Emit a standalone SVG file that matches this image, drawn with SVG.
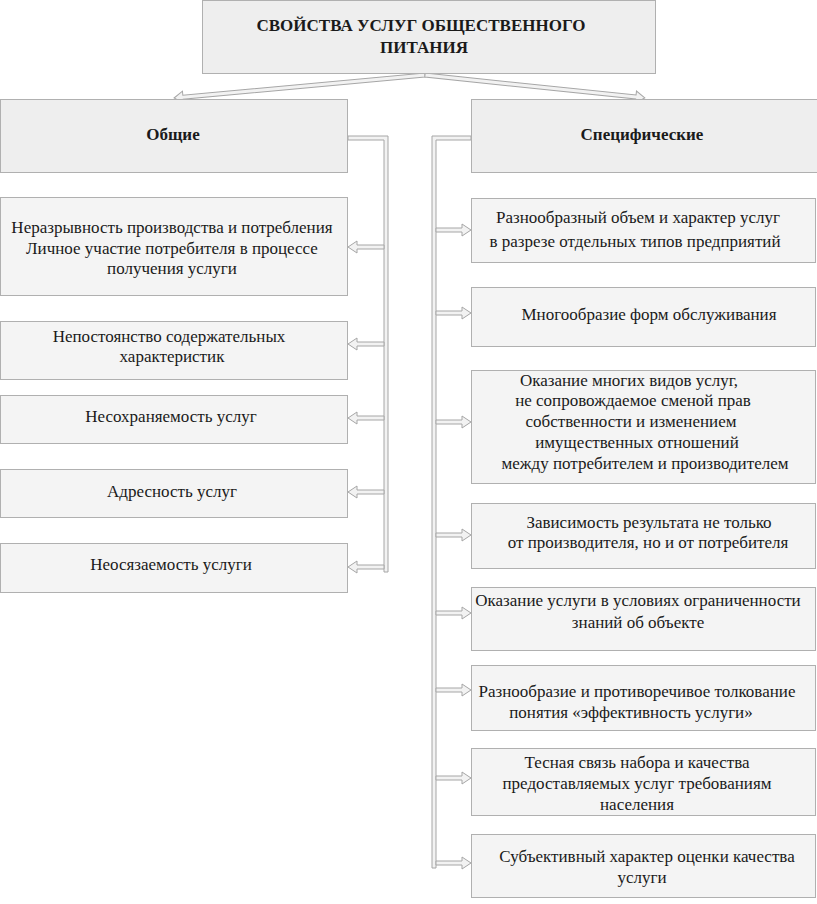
<svg xmlns="http://www.w3.org/2000/svg" width="817" height="904" viewBox="0 0 817 904">
<style>
  .bg { fill: #ffffff; }
  .box { fill: #f4f4f4; stroke: #b0b0b0; stroke-width: 1; }
  .hbox { fill: #eeeeee; stroke: #b0b0b0; stroke-width: 1; }
  .t { font-family: "Liberation Serif", "Times New Roman", Times, serif; font-size: 17px; fill: #1a1a1a; text-anchor: middle; }
  .b { font-weight: bold; }
  .conn { fill: #f2f2f2; stroke: #a6a6a6; stroke-width: 1; stroke-linejoin: miter; }
</style>
<rect class="bg" x="0" y="0" width="817" height="904"/>

<g id="connectors">
  <!-- top diagonal arrows -->
  <g transform="translate(425,75) rotate(174.76)">
    <path class="conn" d="M0,-2 H243 V-6 L252,0 L243,6 V2 H0 Z"/>
  </g>
  <g transform="translate(425,75) rotate(5.97)">
    <path class="conn" d="M0,-2 H212 V-6 L221,0 L212,6 V2 H0 Z"/>
  </g>
  <!-- left bus -->
  <path class="conn" d="M348,136 H388 V572 H384 V140 H348 Z"/>
  <g transform="translate(384,247)"><path class="conn" d="M0,-2 H-27 V-6 L-36,0 L-27,6 V2 H0 Z"/></g>
  <g transform="translate(384,344)"><path class="conn" d="M0,-2 H-27 V-6 L-36,0 L-27,6 V2 H0 Z"/></g>
  <g transform="translate(384,418)"><path class="conn" d="M0,-2 H-27 V-6 L-36,0 L-27,6 V2 H0 Z"/></g>
  <g transform="translate(384,492)"><path class="conn" d="M0,-2 H-27 V-6 L-36,0 L-27,6 V2 H0 Z"/></g>
  <g transform="translate(384,567)"><path class="conn" d="M0,-2 H-27 V-6 L-36,0 L-27,6 V2 H0 Z"/></g>
  <!-- right bus -->
  <path class="conn" d="M471,136 H432 V868 H436 V140 H471 Z"/>
  <g transform="translate(436,230)"><path class="conn" d="M0,-2 H26 V-6 L35,0 L26,6 V2 H0 Z"/></g>
  <g transform="translate(436,313)"><path class="conn" d="M0,-2 H26 V-6 L35,0 L26,6 V2 H0 Z"/></g>
  <g transform="translate(436,422)"><path class="conn" d="M0,-2 H26 V-6 L35,0 L26,6 V2 H0 Z"/></g>
  <g transform="translate(436,535)"><path class="conn" d="M0,-2 H26 V-6 L35,0 L26,6 V2 H0 Z"/></g>
  <g transform="translate(436,613)"><path class="conn" d="M0,-2 H26 V-6 L35,0 L26,6 V2 H0 Z"/></g>
  <g transform="translate(436,690)"><path class="conn" d="M0,-2 H26 V-6 L35,0 L26,6 V2 H0 Z"/></g>
  <g transform="translate(436,778)"><path class="conn" d="M0,-2 H26 V-6 L35,0 L26,6 V2 H0 Z"/></g>
  <g transform="translate(436,863)"><path class="conn" d="M0,-2 H26 V-6 L35,0 L26,6 V2 H0 Z"/></g>
</g>

<g id="title">
  <rect class="hbox" x="202.5" y="0.5" width="453" height="73"/>
  <text class="t b" x="421" y="31">СВОЙСТВА УСЛУГ ОБЩЕСТВЕННОГО</text>
  <text class="t b" x="424" y="53">ПИТАНИЯ</text>
</g>

<g id="general">
  <rect class="hbox" x="0.5" y="99.5" width="347" height="73"/>
  <text class="t b" x="173" y="140">Общие</text>
</g>
<g id="specific">
  <rect class="hbox" x="471.5" y="99.5" width="350" height="73"/>
  <text class="t b" x="642" y="140">Специфические</text>
</g>

<g id="g1">
  <rect class="box" x="0.5" y="197.5" width="347" height="98"/>
  <text class="t" x="172" y="233">Неразрывность производства и потребления</text>
  <text class="t" x="172" y="254">Личное участие потребителя в процессе</text>
  <text class="t" x="172" y="274">получения услуги</text>
</g>
<g id="g2">
  <rect class="box" x="0.5" y="321.5" width="347" height="58"/>
  <text class="t" x="169" y="342">Непостоянство содержательных</text>
  <text class="t" x="172" y="362">характеристик</text>
</g>
<g id="g3">
  <rect class="box" x="0.5" y="395.5" width="347" height="48"/>
  <text class="t" x="171" y="422">Несохраняемость услуг</text>
</g>
<g id="g4">
  <rect class="box" x="0.5" y="469.5" width="347" height="48"/>
  <text class="t" x="172" y="497">Адресность услуг</text>
</g>
<g id="g5">
  <rect class="box" x="0.5" y="543.5" width="347" height="49"/>
  <text class="t" x="171" y="570">Неосязаемость услуги</text>
</g>

<g id="s1">
  <rect class="box" x="471.5" y="198.5" width="344" height="64"/>
  <text class="t" x="638" y="223">Разнообразный объем и характер услуг</text>
  <text class="t" x="635" y="247">в разрезе отдельных типов предприятий</text>
</g>
<g id="s2">
  <rect class="box" x="471.5" y="287.5" width="344" height="59"/>
  <text class="t" x="649" y="320">Многообразие форм обслуживания</text>
</g>
<g id="s3">
  <rect class="box" x="471.5" y="370.5" width="344" height="113"/>
  <text class="t" x="629" y="386">Оказание многих видов услуг,</text>
  <text class="t" x="633" y="406">не сопровождаемое сменой прав</text>
  <text class="t" x="631" y="427">собственности и изменением</text>
  <text class="t" x="637" y="448">имущественных отношений</text>
  <text class="t" x="645" y="469">между потребителем и производителем</text>
</g>
<g id="s4">
  <rect class="box" x="471.5" y="503.5" width="344" height="65"/>
  <text class="t" x="649" y="528">Зависимость результата не только</text>
  <text class="t" x="648" y="548">от производителя, но и от потребителя</text>
</g>
<g id="s5">
  <rect class="box" x="471.5" y="587.5" width="344" height="63"/>
  <text class="t" x="638" y="606">Оказание услуги в условиях ограниченности</text>
  <text class="t" x="638" y="628">знаний об объекте</text>
</g>
<g id="s6">
  <rect class="box" x="471.5" y="665.5" width="344" height="65"/>
  <text class="t" x="637" y="697">Разнообразие и противоречивое толкование</text>
  <text class="t" x="631" y="718">понятия «эффективность услуги»</text>
</g>
<g id="s7">
  <rect class="box" x="471.5" y="748.5" width="344" height="67"/>
  <text class="t" x="637" y="768">Тесная связь набора и качества</text>
  <text class="t" x="637" y="789">предоставляемых услуг требованиям</text>
  <text class="t" x="637" y="810">населения</text>
</g>
<g id="s8">
  <rect class="box" x="471.5" y="834.5" width="344" height="63"/>
  <text class="t" x="647" y="862">Субъективный характер оценки качества</text>
  <text class="t" x="642" y="883">услуги</text>
</g>
</svg>
